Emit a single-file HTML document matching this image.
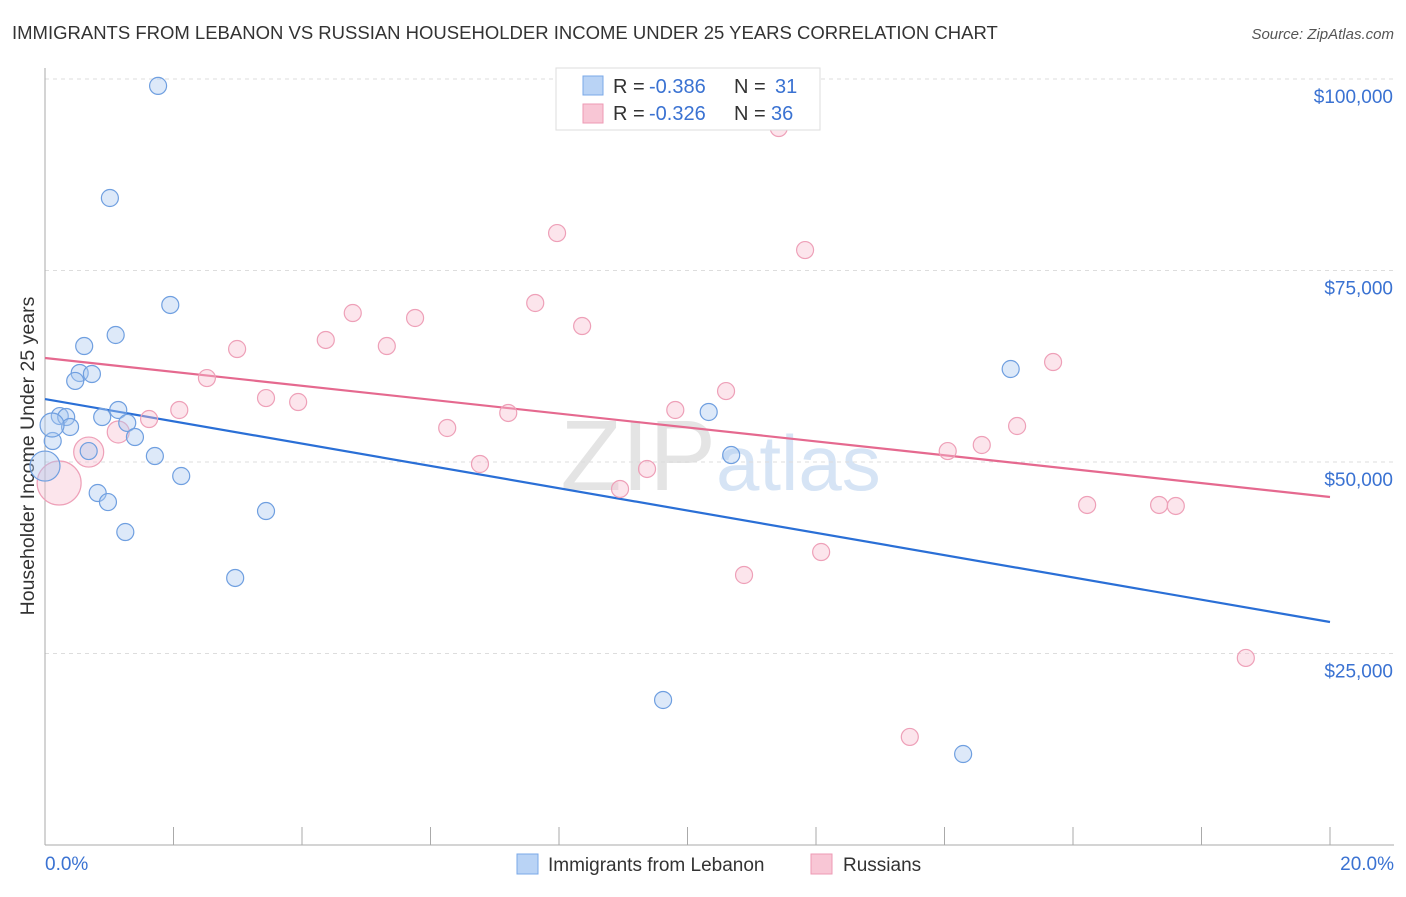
<!DOCTYPE html>
<html><head><meta charset="utf-8"><style>
body{margin:0;background:#fff;font-family:"Liberation Sans",Arial,sans-serif;}
svg text{font-family:"Liberation Sans",Arial,sans-serif;}
</style></head><body>
<svg id="c" width="1406" height="892" viewBox="0 0 1406 892">
<text x="12" y="39" font-size="18.5" fill="#333">IMMIGRANTS FROM LEBANON VS RUSSIAN HOUSEHOLDER INCOME UNDER 25 YEARS CORRELATION CHART</text>
<text x="1394" y="39" font-size="15" fill="#555" text-anchor="end" font-style="italic">Source: ZipAtlas.com</text>
<text x="716" y="490" font-size="100" fill="#e4e4e4" text-anchor="end" font-family="Liberation Serif">ZIP</text>
<text x="716" y="490" font-size="78" fill="#d6e4f5">atlas</text>
<text transform="translate(34,456) rotate(-90)" font-size="19.5" fill="#333" text-anchor="middle">Householder Income Under 25 years</text>
<g id="grid"></g><g id="axes"></g><g id="lines"></g><g id="pts"></g>
<g>
<rect x="556" y="68" width="264" height="62" fill="#fff" stroke="#ddd"/>
<rect x="583" y="76" width="20" height="19" fill="#b9d3f5" stroke="#7aa8e8"/>
<rect x="583" y="104" width="20" height="19" fill="#f8c6d5" stroke="#ee9ab4"/>
<text x="613" y="93" font-size="20" fill="#333">R = <tspan x="649" fill="#3a72d2">-0.386</tspan><tspan x="734">N = </tspan><tspan x="775" fill="#3a72d2">31</tspan></text>
<text x="613" y="120" font-size="20" fill="#333">R = <tspan x="649" fill="#3a72d2">-0.326</tspan><tspan x="734">N = </tspan><tspan x="771" fill="#3a72d2">36</tspan></text>
</g>
<g>
<rect x="517" y="854" width="21" height="20" fill="#b9d3f5" stroke="#7aa8e8"/>
<text x="548" y="871" font-size="19" fill="#333">Immigrants from Lebanon</text>
<rect x="811" y="854" width="21" height="20" fill="#f8c6d5" stroke="#ee9ab4"/>
<text x="843" y="871" font-size="19" fill="#333">Russians</text>
</g>
</svg>
<script>
const yTicks=[25000,50000,75000,100000];
const yTickLabels=["$25,000","$50,000","$75,000","$100,000"];
const xTickVals=[0,2,4,6,8,10,12,14,16,18,20];
const blueX=[1.76,1.01,1.95,1.10,0.61,0.54,0.73,0.47,0.23,0.33,0.39,0.89,1.14,1.28,0.12,1.40,0.68,1.71,0.0,2.12,0.82,0.98,1.25,3.44,2.96,9.62,10.33,10.68,15.03,14.29,0.11];
const blueY=[99100,84465,70500,66580,65140,61620,61490,60580,56000,55870,54570,55870,56790,55100,52740,53260,51430,50780,49470,48170,45950,44770,40860,43600,34860,18930,56530,50910,62140,11880,54830];
const blueR=[8.5,8.5,8.5,8.5,8.5,8.5,8.5,8.5,8.5,8.5,8.5,8.5,8.5,8.5,8.5,8.5,8.5,8.5,15,8.5,8.5,8.5,8.5,8.5,8.5,8.5,8.5,8.5,8.5,8.5,12];
const pinkX=[11.42,7.97,11.83,7.63,4.79,5.76,8.36,4.37,5.32,2.99,15.69,2.52,10.60,3.44,3.94,2.09,1.62,7.21,9.81,15.13,6.26,1.14,0.68,14.58,14.05,6.77,9.37,8.95,0.22,16.22,17.34,17.60,12.08,10.88,18.69,13.46];
const pinkY=[93600,79890,77670,70760,69450,68800,67750,65930,65140,64750,63050,60960,59260,58350,57830,56790,55610,56400,56790,54700,54440,53920,51300,52220,51430,49740,49090,46480,47260,44390,44390,44260,38250,35250,24420,14110];
const pinkR=[8.5,8.5,8.5,8.5,8.5,8.5,8.5,8.5,8.5,8.5,8.5,8.5,8.5,8.5,8.5,8.5,8.5,8.5,8.5,8.5,8.5,11,15,8.5,8.5,8.5,8.5,8.5,22,8.5,8.5,8.5,8.5,8.5,8.5,8.5];
const blueLine=[58220,29110];
const pinkLine=[63580,45430];
const NS="http://www.w3.org/2000/svg";
const X=v=>45+v/20*1285;
const Y=v=>845-v/25000*191.5;
function mk(tag,attrs,parent){const e=document.createElementNS(NS,tag);for(const k in attrs)e.setAttribute(k,attrs[k]);document.getElementById(parent).appendChild(e);return e;}
yTicks.forEach((t,i)=>{
 const g=mk('line',{x1:45,x2:1394,y1:Y(t),y2:Y(t),stroke:'#ddd','stroke-dasharray':'4,4'},'grid');
 
 
 const l=mk('text',{x:1393,y:Y(t)+24,'font-size':19,fill:'#3a72d2','text-anchor':'end'},'axes');
 l.textContent=yTickLabels[i];
 
 
});
const ax=mk('line',{x1:45,x2:1394,y1:845,y2:845,stroke:'#aaa'},'axes');


const ay=mk('line',{x1:45,x2:45,y1:68,y2:845,stroke:'#aaa'},'axes');


xTickVals.forEach(t=>{
 const k=mk('line',{x1:X(t),x2:X(t),y1:827,y2:845,stroke:'#aaa'},'axes');
 
 
});
const x0=mk('text',{x:45,y:870,'font-size':19,fill:'#3a72d2'},'axes');x0.textContent='0.0%';


const x1=mk('text',{x:1394,y:870,'font-size':19,fill:'#3a72d2','text-anchor':'end'},'axes');x1.textContent='20.0%';


function pts(xs,ys,rs,fill,stroke,name){
 xs.forEach((v,i)=>{
  const c=mk('circle',{cx:X(v),cy:Y(ys[i]),r:rs[i],fill:fill,stroke:stroke,'stroke-width':1.2},'pts');
  
  
 });
}
pts(pinkX,pinkY,pinkR,'rgba(248,190,208,0.4)','#eea0b8','russians-point');
pts(blueX,blueY,blueR,'rgba(170,200,240,0.4)','#6f9fe0','lebanon-point');
const bl=mk('line',{x1:X(0),y1:Y(blueLine[0]),x2:X(20),y2:Y(blueLine[1]),stroke:'#2a6fd6','stroke-width':2.2},'lines');


const pl=mk('line',{x1:X(0),y1:Y(pinkLine[0]),x2:X(20),y2:Y(pinkLine[1]),stroke:'#e5698f','stroke-width':2.2},'lines');


</script>
</body></html>
